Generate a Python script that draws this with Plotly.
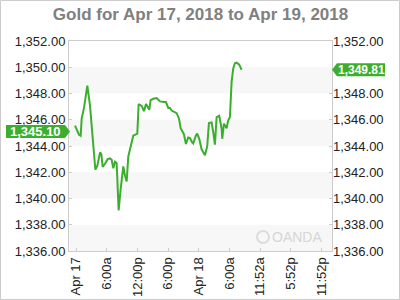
import plotly.graph_objects as go

# Hours since Apr 17 00:00
hours = [-0.2, 0.59, 0.91, 1.11, 1.56, 2.21, 2.73, 3.19, 3.52, 3.78, 4.17, 4.69, 4.95, 5.21, 5.66,
         6.18, 6.64, 6.97, 7.29, 7.62, 7.94, 8.33, 8.72, 9.24, 9.57, 9.90, 10.22, 10.68, 11.2,
         11.52, 11.98, 12.24, 12.83, 13.28, 13.67, 13.93, 14.32, 14.58, 15.1, 15.76, 16.41,
         17.19, 17.58, 18.03, 18.36, 18.69, 19.0, 19.67, 20.12, 20.45, 21.09, 21.48, 21.93,
         22.27, 22.66, 22.91, 23.44, 23.69, 24.08, 24.55, 25.2, 25.65, 25.98, 26.5, 26.82,
         27.15, 27.48, 27.99, 28.46, 28.58, 28.91, 29.43, 29.75, 30.08, 30.41, 30.73, 31.05,
         31.39, 31.9, 32.36]
prices = [1345.55, 1344.85, 1344.78, 1346.1, 1346.9, 1348.6, 1347.1, 1344.8, 1343.15, 1342.2,
          1342.5, 1343.5, 1343.4, 1342.4, 1342.65, 1343.0, 1343.05, 1342.95, 1342.3, 1342.8,
          1342.7, 1339.1, 1340.7, 1342.45, 1341.75, 1341.3, 1343.2, 1344.05, 1344.8, 1344.85,
          1344.95, 1347.2, 1347.05, 1346.65, 1347.2, 1347.05, 1346.75, 1347.5, 1347.6, 1347.65,
          1347.4, 1347.35, 1347.35, 1346.9, 1346.9, 1346.7, 1346.65, 1346.5, 1346.1, 1345.35,
          1344.9, 1344.15, 1344.65, 1344.6, 1344.3, 1344.2, 1344.8, 1344.95, 1344.55, 1343.75,
          1343.3, 1344.0, 1345.75, 1345.8, 1345.05, 1344.1, 1346.2, 1346.3, 1345.3, 1344.55,
          1345.7, 1345.35, 1345.95, 1346.2, 1348.9, 1349.9, 1350.3, 1350.35, 1350.2, 1349.81]

tick_hours = [0, 6, 12, 18, 24, 30, 36, 42, 48]
tick_labels = ["Apr 17", "6:00a", "12:00p", "6:00p", "Apr 18", "6:00a", "11:52a", "5:52p", "11:52p"]
price_ticks = [1336, 1338, 1340, 1342, 1344, 1346, 1348, 1350, 1352]
price_tick_labels = ["1,336.00", "1,338.00", "1,340.00", "1,342.00", "1,344.00",
                     "1,346.00", "1,348.00", "1,350.00", "1,352.00"]
# right axis: 1,350.00 is covered by the last-price label
right_ticks = [1336, 1338, 1340, 1342, 1344, 1346, 1348, 1352]
right_tick_labels = ["1,336.00", "1,338.00", "1,340.00", "1,342.00", "1,344.00",
                     "1,346.00", "1,348.00", "1,352.00"]
band_ranges = [(1336, 1338), (1340, 1342), (1344, 1346), (1348, 1350)]
open_price = 1345.10
open_text = "1,345.10"
last_price = 1349.81
last_text = "1,349.81"
title_text = "Gold for Apr 17, 2018 to Apr 19, 2018"

GREEN = "#3cae2e"
FRAME = "#cccccc"
FONT = "Liberation Sans, Arial, sans-serif"
W, H = 400, 300
ML, MR, MT, MB = 69, 68, 41, 49
PW, PH = W - ML - MR, H - MT - MB

fig = go.Figure()
fig.add_trace(go.Scatter(x=hours, y=prices, mode="lines",
                         line=dict(color=GREEN, width=2), showlegend=False, hoverinfo="skip"))
fig.add_trace(go.Scatter(x=hours, y=prices, mode="lines", yaxis="y2",
                         line=dict(color="rgba(0,0,0,0)", width=0), showlegend=False, hoverinfo="skip"))

shapes = []
for lo, hi in band_ranges:
    shapes.append(dict(type="rect", xref="paper", yref="y", x0=0, x1=1, y0=lo, y1=hi,
                       fillcolor="#f7f7f7", line=dict(width=0), layer="below"))
# outer border of the image
shapes.append(dict(type="rect", xref="paper", yref="paper",
                   x0=(0.5 - ML) / PW, x1=(W - 0.5 - ML) / PW,
                   y0=(MT + PH - (H - 0.5)) / PH, y1=(MT + PH - 0.5) / PH,
                   line=dict(color=FRAME, width=1), fillcolor="rgba(0,0,0,0)"))
# left price label (arrow pointing right)
shapes.append(dict(type="path", xref="paper", yref="y", xsizemode="pixel", ysizemode="pixel",
                   xanchor=0, yanchor=open_price,
                   path="M -63,6.5 L -4,6.5 L 1,0 L -4,-6.5 L -63,-6.5 Z",
                   fillcolor=GREEN, line=dict(width=0)))
# right price label (arrow pointing left)
shapes.append(dict(type="path", xref="paper", yref="y", xsizemode="pixel", ysizemode="pixel",
                   xanchor=1, yanchor=last_price,
                   path="M 0,0 L 5,6.5 L 53,6.5 L 53,-6.5 L 5,-6.5 Z",
                   fillcolor=GREEN, line=dict(width=0)))
# watermark logo circle
shapes.append(dict(type="circle", xref="paper", yref="paper", xsizemode="pixel", ysizemode="pixel",
                   xanchor=(263 - ML) / PW, yanchor=(MT + PH - 237) / PH,
                   x0=-6, x1=6, y0=-6, y1=6,
                   line=dict(color="#dcdcdc", width=2), fillcolor="rgba(0,0,0,0)"))

annotations = [
    dict(text=open_text, xref="paper", yref="y", x=0, y=open_price, xanchor="center",
         xshift=-34, showarrow=False, font=dict(family=FONT, size=13, color="white", weight="bold")),
    dict(text=last_text, xref="paper", yref="y", x=1, y=last_price, xanchor="center",
         xshift=29, showarrow=False, font=dict(family=FONT, size=12, color="white", weight="bold")),
    dict(text="OANDA", xref="paper", yref="paper", x=(297 - ML) / PW, y=(MT + PH - 237) / PH,
         xanchor="center", yanchor="middle", showarrow=False,
         font=dict(family=FONT, size=14, color="#d6d6d6")),
]

axis_font = dict(family=FONT, size=13, color="#222222")
fig.update_layout(
    width=W, height=H, margin=dict(l=ML, r=MR, t=MT, b=MB, autoexpand=False),
    paper_bgcolor="white", plot_bgcolor="white",
    title=dict(text=title_text, x=0.5, xref="paper", y=1 - 14 / H, yref="container",
               xanchor="center", yanchor="middle",
               font=dict(family=FONT, size=17, color="#808080", weight="bold")),
    xaxis=dict(range=[-1.37, 50.03], tickmode="array", tickvals=tick_hours, ticktext=tick_labels,
               tickangle=-90, tickfont=axis_font, showgrid=False, zeroline=False, automargin=False,
               showline=True, linecolor=FRAME, linewidth=1, mirror=True,
               ticks="inside", ticklen=3, tickcolor=FRAME),
    yaxis=dict(range=[1336, 1352], tickmode="array", tickvals=price_ticks, ticktext=price_tick_labels,
               tickfont=axis_font, showgrid=False, zeroline=False, automargin=False,
               showline=True, linecolor=FRAME, linewidth=1, mirror=True,
               ticks="inside", ticklen=3, tickcolor=FRAME),
    yaxis2=dict(range=[1336, 1352], tickmode="array", tickvals=right_ticks, ticktext=right_tick_labels,
                overlaying="y", side="right", tickfont=axis_font, showgrid=False, zeroline=False,
                automargin=False, ticks="inside", ticklen=3, tickcolor=FRAME, showline=False),
    shapes=shapes, annotations=annotations, showlegend=False,
)

fig.write_html("out.html")
